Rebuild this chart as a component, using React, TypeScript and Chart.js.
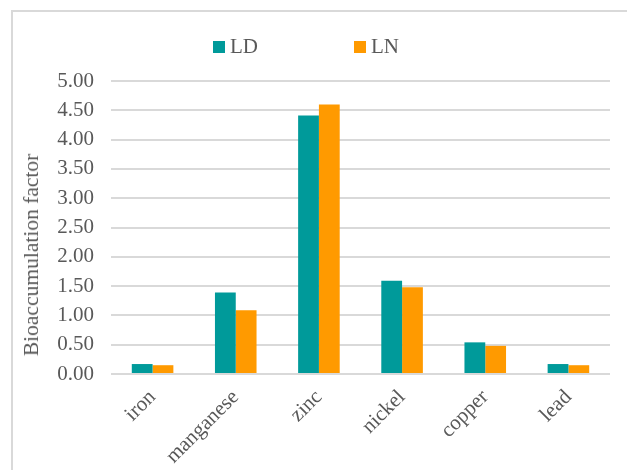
import React, { useEffect, useRef } from "react";
import { Chart, registerables } from "chart.js";

Chart.register(...registerables);

const categories = ["iron", "manganese", "zinc", "nickel", "copper", "lead"];
const seriesNames = ["LD", "LN"];
const ldValues = [0.17, 1.39, 4.41, 1.59, 0.54, 0.17];
const lnValues = [0.15, 1.09, 4.6, 1.48, 0.48, 0.15];
const seriesColors = ["#009A9A", "#FF9A00"];
const yTitle = "Bioaccumulation factor";
const yMin = 0;
const yMax = 5;
const yStep = 0.5;

const FONT = "'Liberation Serif', 'Times New Roman', serif";
const TEXT = "#595959";

export default function App() {
  const ref = useRef<HTMLCanvasElement | null>(null);

  useEffect(() => {
    if (!ref.current) return;
    const chart = new Chart(ref.current, {
      type: "bar",
      data: {
        labels: categories,
        datasets: [
          {
            label: seriesNames[0],
            data: ldValues,
            backgroundColor: seriesColors[0],
            borderWidth: 0,
            categoryPercentage: 0.5,
            barPercentage: 1.0,
          },
          {
            label: seriesNames[1],
            data: lnValues,
            backgroundColor: seriesColors[1],
            borderWidth: 0,
            categoryPercentage: 0.5,
            barPercentage: 1.0,
          },
        ],
      },
      options: {
        animation: false,
        responsive: true,
        maintainAspectRatio: false,
        layout: { padding: { top: 81, right: 17, bottom: 0, left: 0 } },
        plugins: {
          legend: { display: false },
          tooltip: { enabled: false },
        },
        scales: {
          x: {
            grid: { display: false },
            border: { display: false },
            ticks: {
              color: TEXT,
              font: { family: FONT, size: 21 },
              minRotation: 45,
              maxRotation: 45,
              autoSkip: false,
              padding: 3,
            },
            afterFit: (scale: any) => {
              scale.height = 96;
            },
          },
          y: {
            min: yMin,
            max: yMax,
            grid: { color: "#d9d9d9", lineWidth: 2, drawTicks: false },
            border: { display: false },
            ticks: {
              stepSize: yStep,
              color: TEXT,
              font: { family: FONT, size: 21 },
              padding: 17,
              callback: (v: any) => Number(v).toFixed(2),
            },
            afterFit: (scale: any) => {
              scale.width = 111;
            },
          },
        },
      },
    });
    return () => chart.destroy();
  }, []);

  const legendItems = [
    { x: 213, name: seriesNames[0], color: seriesColors[0] },
    { x: 354, name: seriesNames[1], color: seriesColors[1] },
  ];

  return (
    <div
      style={{
        position: "absolute",
        left: 0,
        top: 0,
        width: 627,
        height: 470,
        overflow: "hidden",
        background: "#ffffff",
      }}
    >
      <div
        style={{
          position: "absolute",
          left: 11,
          top: 10,
          width: 700,
          height: 600,
          border: "2px solid #d9d9d9",
          boxSizing: "border-box",
        }}
      />
      <div style={{ position: "absolute", left: 0, top: 0, width: 627, height: 470 }}>
        <canvas ref={ref} />
      </div>
      <div
        style={{
          position: "absolute",
          left: 31,
          top: 255,
          width: 0,
          height: 0,
        }}
      >
        <div
          style={{
            position: "absolute",
            left: 0,
            top: 0,
            transform: "translate(-50%, -50%) rotate(-90deg)",
            fontFamily: FONT,
            fontSize: 21.5,
            lineHeight: "24px",
            color: TEXT,
            whiteSpace: "nowrap",
          }}
        >
          {yTitle}
        </div>
      </div>
      {legendItems.map((it) => (
        <React.Fragment key={it.name}>
          <div
            style={{
              position: "absolute",
              left: it.x,
              top: 41,
              width: 12,
              height: 12,
              background: it.color,
            }}
          />
          <span
            style={{
              position: "absolute",
              left: it.x + 17,
              top: 36,
              fontFamily: FONT,
              fontSize: 21,
              lineHeight: "21px",
              color: TEXT,
              whiteSpace: "nowrap",
            }}
          >
            {it.name}
          </span>
        </React.Fragment>
      ))}
    </div>
  );
}
